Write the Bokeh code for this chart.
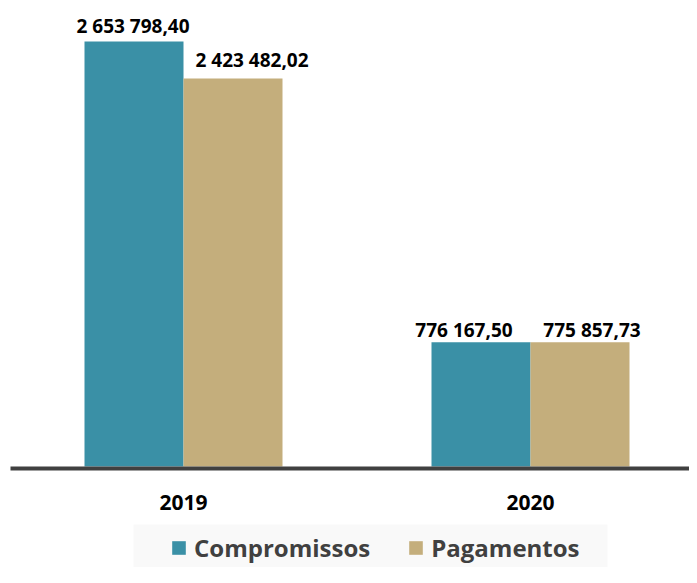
from bokeh.plotting import figure
from bokeh.models import Legend, LegendItem, ColumnDataSource, Range1d
from bokeh.core.properties import value
from bokeh.embed import file_html
from bokeh.resources import INLINE

# ---- data ----
years = ["2019", "2020"]
compromissos = [2653798.40, 776167.50]
pagamentos = [2423482.02, 775857.73]
series_names = ["Compromissos", "Pagamentos"]

# ---- styling / layout constants ----
W, H = 689, 567
COLORS = ["#3A90A6", "#C4AE7C"]
FONT = "Open Sans"
X0_PX = 183.0           # pixel of first category
PX_X = 347.0            # pixels per category unit
BAR_W = 99.0 / PX_X
BASE_PX = 466.0         # pixel row of value 0
UNITS_PER_PX = 2653798.40 / 425.0
Y_START, Y_END = -(H - BASE_PX) * UNITS_PER_PX, BASE_PX * UNITS_PER_PX

def fmt(v):
    return f"{v:,.2f}".replace(",", " ").replace(".", ",")

def xpx(px):
    return (px - X0_PX) / PX_X

def ypx(py):
    return (BASE_PX - py) * UNITS_PER_PX

p = figure(width=W, height=H, output_backend="svg", toolbar_location=None,
           x_range=Range1d(xpx(0), xpx(W)),
           y_range=Range1d(Y_START, Y_END),
           x_axis_type=None, y_axis_type=None, min_border=0)
p.outline_line_color = None
p.grid.visible = False
p.background_fill_color = "white"
p.border_fill_color = "white"

# legend background box
p.quad(left=[xpx(133)], right=[xpx(607)], top=[ypx(524)], bottom=[ypx(600)],
       fill_color="#F9F9F9", line_color=None)

xs = list(range(len(years)))
offs = [-BAR_W / 2, BAR_W / 2]
renderers = []
label_x, label_y, label_t, label_xo, label_yo = [], [], [], [], []
x_shift = [[-1, -17], [19, 12]]
y_shift = [[-16, -12], [-18, -12]]
for k, vals in enumerate([compromissos, pagamentos]):
    src = ColumnDataSource(dict(x=[x + offs[k] for x in xs], top=vals))
    r = p.vbar(x="x", top="top", width=BAR_W, bottom=0, source=src,
               fill_color=COLORS[k], line_color=None)
    renderers.append(r)
    for i, v in enumerate(vals):
        label_x.append(xs[i] + offs[k])
        label_y.append(v)
        label_t.append(fmt(v))
        label_xo.append(x_shift[k][i])
        label_yo.append(y_shift[k][i])

p.text(x=label_x, y=label_y, text=label_t, x_offset=label_xo, y_offset=label_yo,
       text_align="center", text_baseline="alphabetic",
       text_font=value(FONT), text_font_style="bold", text_font_size="19px",
       text_color="#000000")

# category labels
p.text(x=xs, y=[0] * len(xs), text=years, y_offset=36,
       text_align="center", text_baseline="alphabetic",
       text_font=value(FONT), text_font_style="bold", text_font_size="21px",
       text_color="#000000")

# baseline
p.segment(x0=[xpx(10)], x1=[xpx(W + 5)], y0=[ypx(468)], y1=[ypx(468)],
          line_color="#404040", line_width=4)

legend = Legend(items=[LegendItem(label=series_names[k], renderers=[renderers[k]])
                       for k in range(2)],
                orientation="horizontal", location=(170, 3),
                background_fill_alpha=0, border_line_color=None,
                glyph_width=17, glyph_height=17, label_standoff=7, spacing=37,
                padding=0, margin=0,
                label_text_font=FONT, label_text_font_style="bold",
                label_text_font_size="24px", label_text_color="#404040")
p.add_layout(legend)

open("out.html", "w").write(file_html(p, INLINE))
